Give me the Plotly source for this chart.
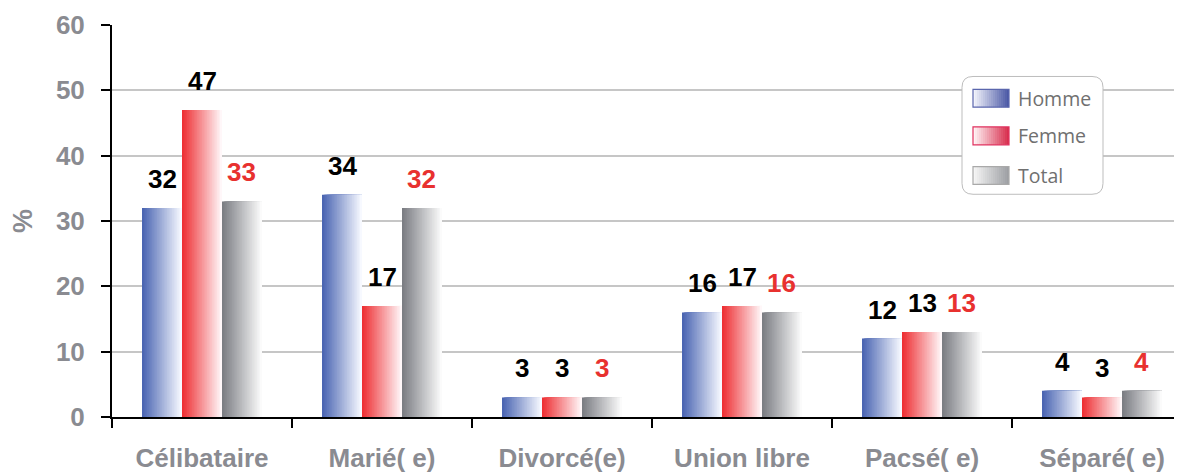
import plotly.graph_objects as go

# ---------------- data ----------------
categories = ["Célibataire", "Marié( e)", "Divorcé(e)", "Union libre", "Pacsé( e)", "Séparé( e)"]
series_names = ["Homme", "Femme", "Total"]
homme = [32, 34, 3, 16, 12, 4]
femme = [47, 17, 3, 17, 13, 3]
total = [33, 32, 3, 16, 13, 4]
y_ticks = [0, 10, 20, 30, 40, 50, 60]

# ---------------- geometry / styles ----------------
OFF = 8  # browser body margin
W, H = 1182 - OFF, 473 - OFF
ML, MR, MT = 112 - OFF, 0, 25 - OFF
PH = 396
MB = H - MT - PH
PW = W - ML - MR
X_RANGE = [-0.5, -0.5 + PW / 180.0]
PX_PER_CAT = PW / (X_RANGE[1] - X_RANGE[0])

dark = {"Homme": (74, 101, 178), "Femme": (238, 48, 52), "Total": (123, 125, 131)}
light = {"Homme": (247, 249, 255), "Femme": (255, 247, 249), "Total": (251, 251, 251)}
label_color = {"Homme": "#000000", "Femme": "#000000", "Total": "#e8312f"}
bar_w = 0.2222
starts = [-0.3333, -0.1111, 0.1111]
N = 24
GRAY_TXT = "#8a8b91"


def mix(c1, c2, t):
    return "rgb(%d,%d,%d)" % tuple(round(a + (b - a) * t) for a, b in zip(c1, c2))


fig = go.Figure()
all_vals = [homme, femme, total]
for s, (name, vals) in enumerate(zip(series_names, all_vals)):
    for i in range(N):
        t = i / (N - 1)
        fig.add_trace(go.Bar(
            x=categories, y=vals,
            width=bar_w * (N - i) / N,
            offset=starts[s] + bar_w * i / N,
            marker=dict(color=mix(dark[name], light[name], t), line=dict(width=0)),
            name=name, legendgroup=name, showlegend=False, hoverinfo="skip",
        ))

# value labels
annotations = []
for s, (name, vals) in enumerate(zip(series_names, all_vals)):
    for cat, v in zip(categories, vals):
        annotations.append(dict(
            x=cat, y=v, xref="x", yref="y",
            xshift=(starts[s] + bar_w / 2) * PX_PER_CAT, yshift=29,
            text=str(v), showarrow=False, yanchor="middle", xanchor="center",
            font=dict(family="Liberation Sans, Arial", size=26, color=label_color[name], weight="bold"),
        ))


# ---------------- custom legend (decoration) ----------------
def xp(px):
    return (px - OFF - ML) / PW


def yp(py):
    return (H - MB - (py - OFF)) / PH


shapes = []


def rounded_rect(x0, y0, x1, y1, r):
    rx, ry = r / PW, r / PH
    X0, X1, Y0, Y1 = xp(x0), xp(x1), yp(y1), yp(y0)  # Y0 bottom, Y1 top
    return (f"M{X0+rx},{Y1} L{X1-rx},{Y1} Q{X1},{Y1} {X1},{Y1-ry} "
            f"L{X1},{Y0+ry} Q{X1},{Y0} {X1-rx},{Y0} L{X0+rx},{Y0} "
            f"Q{X0},{Y0} {X0},{Y0+ry} L{X0},{Y1-ry} Q{X0},{Y1} {X0+rx},{Y1} Z")


shapes.append(dict(type="path", xref="paper", yref="paper", layer="above",
                   path=rounded_rect(962, 77, 1103, 196, 11),
                   fillcolor="white", line=dict(color="#bdbdbd", width=1)))

leg_dark = {"Homme": (76, 90, 166), "Femme": (216, 48, 79), "Total": (158, 160, 164)}
leg_light = {"Homme": (242, 243, 251), "Femme": (255, 242, 244), "Total": (245, 245, 245)}
leg_border = {"Homme": "#5a66ad", "Femme": "#e0305e", "Total": "#a9a9a9"}
leg_cy = [99, 137, 177]
SW_X0, SW_X1, SW_H = 973, 1009, 18
NS = 18
for name, cy in zip(series_names, leg_cy):
    for i in range(NS):
        t = i / (NS - 1)
        a = SW_X0 + (SW_X1 - SW_X0) * i / NS
        b = SW_X0 + (SW_X1 - SW_X0) * (i + 1) / NS + 0.4
        shapes.append(dict(type="rect", xref="paper", yref="paper", layer="above",
                           x0=xp(a), x1=xp(min(b, SW_X1)), y0=yp(cy + SW_H / 2), y1=yp(cy - SW_H / 2),
                           fillcolor=mix(leg_light[name], leg_dark[name], t), line=dict(width=0)))
    shapes.append(dict(type="rect", xref="paper", yref="paper", layer="above",
                       x0=xp(SW_X0), x1=xp(SW_X1), y0=yp(cy + SW_H / 2), y1=yp(cy - SW_H / 2),
                       fillcolor="rgba(0,0,0,0)", line=dict(color=leg_border[name], width=1.2)))
    annotations.append(dict(x=xp(1016), y=yp(cy), xref="paper", yref="paper",
                            text=name, showarrow=False, xanchor="left", yanchor="middle",
                            font=dict(family="Open Sans", size=19.5, color="#707070")))

fig.update_layout(
    width=W, height=H,
    margin=dict(l=ML, r=MR, t=MT, b=MB, pad=0),
    barmode="overlay",
    plot_bgcolor="white", paper_bgcolor="white",
    showlegend=False,
    annotations=annotations,
    shapes=shapes,
    xaxis=dict(
        type="category", range=X_RANGE, tickson="boundaries",
        ticks="outside", ticklen=9, tickwidth=2, tickcolor="black",
        showline=True, linecolor="black", linewidth=2, showgrid=False,
        ticklabelstandoff=17,
        tickfont=dict(family="Liberation Sans, Arial", size=26, color=GRAY_TXT, weight="bold"),
        fixedrange=True,
    ),
    yaxis=dict(
        range=[0, 60], tickvals=y_ticks, ticks="outside", ticklen=9, tickwidth=2, tickcolor="black",
        showline=True, linecolor="black", linewidth=2,
        showgrid=True, gridcolor="#c6c6c6", gridwidth=1.5, zeroline=False,
        ticklabelstandoff=11,
        tickfont=dict(family="Liberation Sans, Arial", size=26, color=GRAY_TXT, weight="bold"),
        title=dict(text="%", standoff=17,
                   font=dict(family="Liberation Sans, Arial", size=27, color=GRAY_TXT, weight="bold")),
        fixedrange=True,
    ),
)

fig.write_html("out.html")
